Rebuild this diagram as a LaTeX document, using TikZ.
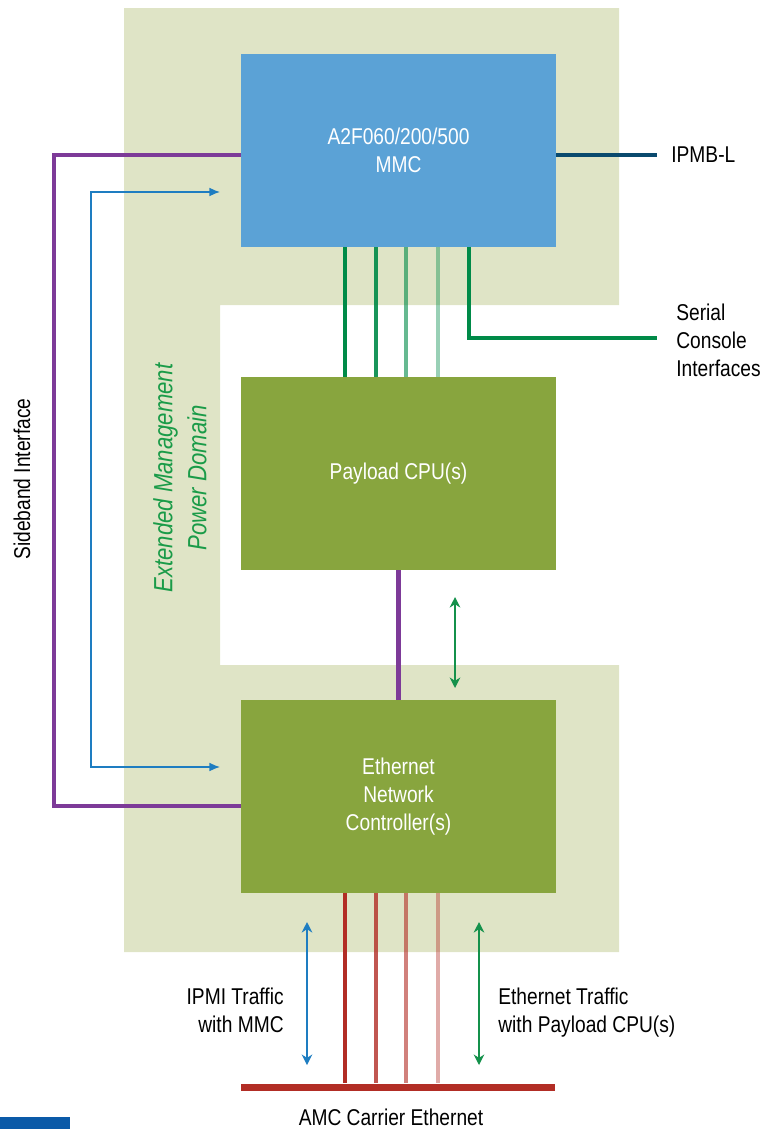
\documentclass[tikz,border=0pt]{standalone}
\usepackage{fontspec}
\setmainfont{Liberation Sans}[FakeStretch=0.84]
\usetikzlibrary{arrows.meta}

\definecolor{domainbg}{RGB}{223,228,198}
\definecolor{mmcblue}{RGB}{91,162,214}
\definecolor{cpugreen}{RGB}{136,165,62}
\definecolor{sbpurple}{RGB}{125,58,152}
\definecolor{ipmbblue}{RGB}{10,74,110}
\definecolor{sergreen}{RGB}{0,138,72}
\definecolor{ethred}{RGB}{178,45,37}
\definecolor{ipmiblue}{RGB}{30,125,193}
\definecolor{trafgreen}{RGB}{20,145,75}
\definecolor{domtext}{RGB}{26,155,72}
\definecolor{figblue}{RGB}{10,90,168}

\begin{document}
\begin{tikzpicture}[x=0.02cm,y=-0.02cm,
    font=\fontsize{13}{15.9}\selectfont,
    block/.style={minimum width=6.3cm, minimum height=3.86cm, inner sep=0pt,
        text=white, align=center},
    txt/.style={inner sep=0pt},
    sideband/.style={draw=sbpurple, line width=2.8pt},
    serial/.style={draw=sergreen, line width=2.8pt},
    ether/.style={draw=ethred, line width=2.8pt},
    ipmi/.style={draw=ipmiblue, line width=0.8pt},
    traffic/.style={draw=trafgreen, line width=0.8pt}]

\useasboundingbox (0,0) rectangle (764,1129);

% Extended management power domain (background)
\fill[domainbg] (124,8) -- (619,8) -- (619,305) -- (220,305) -- (220,665)
    -- (619,665) -- (619,952) -- (124,952) -- cycle;
\node[txt, rotate=90, text=domtext, align=center, font=\fontsize{15}{19.3}\selectfont\itshape]
    (domain) at (180,478) {Extended Management\\Power Domain};

% Blocks
\node[block, fill=mmcblue] (mmc) at (398.5,150.5) {A2F060/200/500\\MMC};
\node[block, fill=cpugreen] (cpu) at (398.5,473.5) {Payload CPU(s)};
\node[block, fill=cpugreen] (enc) at (398.5,796.5) {Ethernet\\Network\\Controller(s)};
\node[fill=ethred, minimum width=6.28cm, minimum height=0.14cm, inner sep=0pt]
    (amc) at (398,1087) {};

% Outside labels
\node[txt, anchor=west] (ipmbl) at (671,155) {IPMB-L};
\node[txt, anchor=west, align=left] (serial) at (676,340) {Serial\\Console\\Interfaces};
\node[txt, rotate=90] (sideband) at (22,479) {Sideband Interface};
\node[txt, anchor=east, align=right] (ipmitxt) at (284,1010) {IPMI Traffic\\with MMC};
\node[txt, anchor=west, align=left] (ethtxt) at (498,1013) {Ethernet Traffic\\with Payload CPU(s)};
\node[txt] (amctxt) at (391,1117) {AMC Carrier Ethernet};

% IPMB-L
\draw[draw=ipmbblue, line width=2.8pt] (mmc.east |- ipmbl) -- ([xshift=-0.28cm]ipmbl.west);

% Sideband interface
\draw[sideband] (mmc.west |- 0,155) -| (54,480) |- (enc.west |- 0,806);
\draw[sideband] (cpu.south) -- (enc.north);

% IPMI path MMC <-> ENC
\coordinate (mmcin) at (220,192);
\coordinate (encin) at (220,767);
\draw[ipmi, {Latex[length=6pt,width=5pt]}-{Latex[length=6pt,width=5pt]}]
    (mmcin) -- (91,192) -- (91,767) -- (encin);

% Serial lines MMC -> CPU
\foreach \x/\op in {345/1, 376/0.9, 406/0.6, 438/0.4} {
    \draw[serial, draw opacity=\op] (mmc.south -| \x,0) -- (cpu.north -| \x,0);
}
\coordinate (sercon) at (657,338);
\draw[serial] (mmc.south -| 469,0) |- (sercon);

% Ethernet lines ENC -> AMC carrier
\foreach \x/\op in {345/1, 376/0.8, 406/0.6, 438/0.4} {
    \draw[ether, draw opacity=\op] (enc.south -| \x,0) -- (amc.north -| \x,0);
}

% Traffic arrows
\draw[traffic, {Stealth[length=6pt,width=6pt]}-{Stealth[length=6pt,width=6pt]}] (455,597) -- (455,688);
\draw[traffic, {Stealth[length=6pt,width=6pt]}-{Stealth[length=6pt,width=6pt]}] (479,922) -- (479,1065);
\draw[ipmi, {Stealth[length=6pt,width=6pt]}-{Stealth[length=6pt,width=6pt]}] (307,922) -- (307,1065);

% Figure tag (cut off)
\fill[figblue] (0,1117) rectangle (70,1129);

\end{tikzpicture}
\end{document}
